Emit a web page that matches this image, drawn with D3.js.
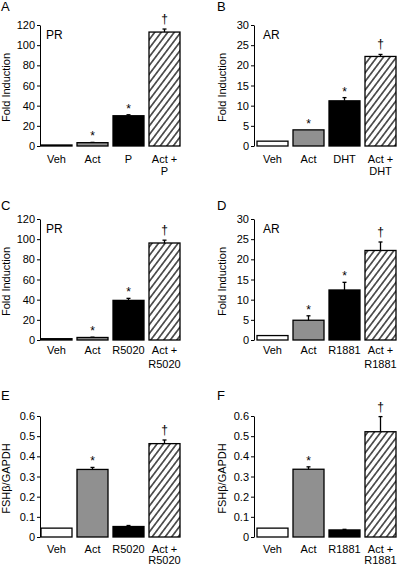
<!DOCTYPE html>
<html>
<head>
<meta charset="utf-8">
<script src="https://cdn.jsdelivr.net/npm/d3@7"></script>
<style>
  body { margin: 0; background: #fff; }
  svg { display: block; font-family: "Liberation Sans", Arial, sans-serif; }
  text { fill: #000; }
</style>
</head>
<body>
<svg id="chart" width="400" height="565"></svg>
<script>
// ---------------- data ----------------
const panelIds = ["A", "B", "C", "D", "E", "F"];
const receptors = ["PR", "AR", "PR", "AR", "", ""];
const yTitles = ["Fold Induction", "Fold Induction", "Fold Induction", "Fold Induction", "FSHβ/GAPDH", "FSHβ/GAPDH"];
const yMax = [120, 30, 120, 30, 0.6, 0.6];
const yTickStep = [20, 5, 20, 5, 0.1, 0.1];

const categoriesA = ["Veh", "Act", "P", "Act +\nP"];
const categoriesB = ["Veh", "Act", "DHT", "Act +\nDHT"];
const categoriesC = ["Veh", "Act", "R5020", "Act +\nR5020"];
const categoriesD = ["Veh", "Act", "R1881", "Act +\nR1881"];
const categoriesE = ["Veh", "Act", "R5020", "Act +\nR5020"];
const categoriesF = ["Veh", "Act", "R1881", "Act +\nR1881"];

const valuesA = [1, 3.3, 30, 113];
const errorsA = [0, 0.3, 1, 3];
const valuesB = [1.2, 4, 11.2, 22.2];
const errorsB = [0, 0, 0.8, 0.5];
const valuesC = [1.3, 2.5, 39.3, 96.2];
const errorsC = [0, 0.3, 2, 2.8];
const valuesD = [1.1, 4.9, 12.4, 22.2];
const errorsD = [0, 1.1, 1.9, 2.1];
const valuesE = [0.044, 0.335, 0.052, 0.463];
const errorsE = [0, 0.01, 0.005, 0.018];
const valuesF = [0.044, 0.336, 0.035, 0.522];
const errorsF = [0, 0.012, 0.003, 0.075];

const marksA = ["", "*", "*", "†"];
const marksB = ["", "*", "*", "†"];
const marksC = ["", "*", "*", "†"];
const marksD = ["", "*", "*", "†"];
const marksE = ["", "*", "", "†"];
const marksF = ["", "*", "", "†"];

const categories = [categoriesA, categoriesB, categoriesC, categoriesD, categoriesE, categoriesF];
const values = [valuesA, valuesB, valuesC, valuesD, valuesE, valuesF];
const errors = [errorsA, errorsB, errorsC, errorsD, errorsE, errorsF];
const marks = [marksA, marksB, marksC, marksD, marksE, marksF];

// ---------------- layout / style ----------------
const fills = ["#ffffff", "#909090", "#000000", "url(#hatch)"];
const cols = [
  { axisX: 40, bars: [41, 180], letterX: 1, recX: 46, titleX: 9.5 },
  { axisX: 254, bars: [257, 396], letterX: 217, recX: 263, titleX: 226 }
];
const rows = [
  { top: 25, bottom: 146, l1: 17, l2: 29, letterY: 11 },
  { top: 219, bottom: 340, l1: 14, l2: 28, letterY: 210 },
  { top: 416, bottom: 537, l1: 16, l2: 27, letterY: 400 }
];

const svg = d3.select("#chart");
const defs = svg.append("defs");
const pat = defs.append("pattern")
  .attr("id", "hatch")
  .attr("patternUnits", "userSpaceOnUse")
  .attr("width", 5.2).attr("height", 10)
  .attr("patternTransform", "rotate(37)");
pat.append("rect").attr("width", 5.2).attr("height", 10).attr("fill", "#fff");
pat.append("line").attr("x1", 2.6).attr("y1", 0).attr("x2", 2.6).attr("y2", 10)
  .attr("stroke", "#000").attr("stroke-width", 1.2);

panelIds.forEach((id, i) => {
  const col = cols[i % 2];
  const row = rows[Math.floor(i / 2)];
  const g = svg.append("g");

  const y = d3.scaleLinear().domain([0, yMax[i]]).range([row.bottom, row.top]);
  const x = d3.scaleBand().domain(d3.range(categories[i].length))
    .range(col.bars).paddingInner(5 / 36).paddingOuter(0);

  const step = yTickStep[i];
  const ticks = d3.range(0, yMax[i] + step / 2, step);
  const fmt = v => Math.abs(v) < 1e-9 ? "0" : (step < 1 ? d3.format(".1f")(v) : d3.format("d")(Math.round(v)));

  const ax = g.append("g")
    .attr("transform", `translate(${col.axisX},0)`)
    .call(d3.axisLeft(y).tickValues(ticks).tickFormat(fmt).tickSize(3).tickSizeOuter(0).tickPadding(2));
  ax.select(".domain").attr("stroke", "#000").attr("stroke-width", 1);
  ax.selectAll(".tick line").attr("stroke", "#000");
  ax.selectAll(".tick text").attr("font-size", 11).attr("fill", "#000")
    .attr("font-family", "'Liberation Sans', Arial, sans-serif");

  // bars
  g.selectAll("rect.bar").data(values[i]).join("rect")
    .attr("class", "bar")
    .attr("x", (d, j) => x(j))
    .attr("y", d => y(d))
    .attr("width", x.bandwidth())
    .attr("height", d => y(0) - y(d))
    .attr("fill", (d, j) => fills[j])
    .attr("stroke", "#000")
    .attr("stroke-width", 1.3);

  // error bars
  values[i].forEach((v, j) => {
    const e = errors[i][j];
    const cx = x(j) + x.bandwidth() / 2;
    if (e > 0) {
      g.append("line").attr("x1", cx).attr("x2", cx)
        .attr("y1", y(v)).attr("y2", y(v + e))
        .attr("stroke", "#000").attr("stroke-width", 1.3);
      g.append("line").attr("x1", cx - 2).attr("x2", cx + 2)
        .attr("y1", y(v + e)).attr("y2", y(v + e))
        .attr("stroke", "#000").attr("stroke-width", 1.3);
    }
    const m = marks[i][j];
    if (m) {
      g.append("text")
        .attr("x", cx)
        .attr("y", y(v + e) - (m === "*" ? 2 : 6))
        .attr("text-anchor", "middle")
        .attr("font-size", 12)
        .attr("fill", "#000")
        .text(m);
    }
    // category labels
    const lines = categories[i][j].split("\n");
    lines.forEach((ln, k) => {
      g.append("text")
        .attr("x", cx)
        .attr("y", row.bottom + (k === 0 ? row.l1 : row.l2))
        .attr("text-anchor", "middle")
        .attr("font-size", 11)
        .text(ln);
    });
  });

  // y title
  g.append("text")
    .attr("transform", `translate(${col.titleX},${(row.top + row.bottom) / 2 + 2}) rotate(-90)`)
    .attr("text-anchor", "middle")
    .attr("font-size", 11)
    .text(yTitles[i]);

  // panel letter
  g.append("text")
    .attr("x", col.letterX).attr("y", row.letterY)
    .attr("font-size", 13)
    .text(id);

  // receptor label
  if (receptors[i]) {
    g.append("text")
      .attr("x", col.recX).attr("y", row.top + 14)
      .attr("font-size", 12)
      .text(receptors[i]);
  }
});
</script>
</body>
</html>
